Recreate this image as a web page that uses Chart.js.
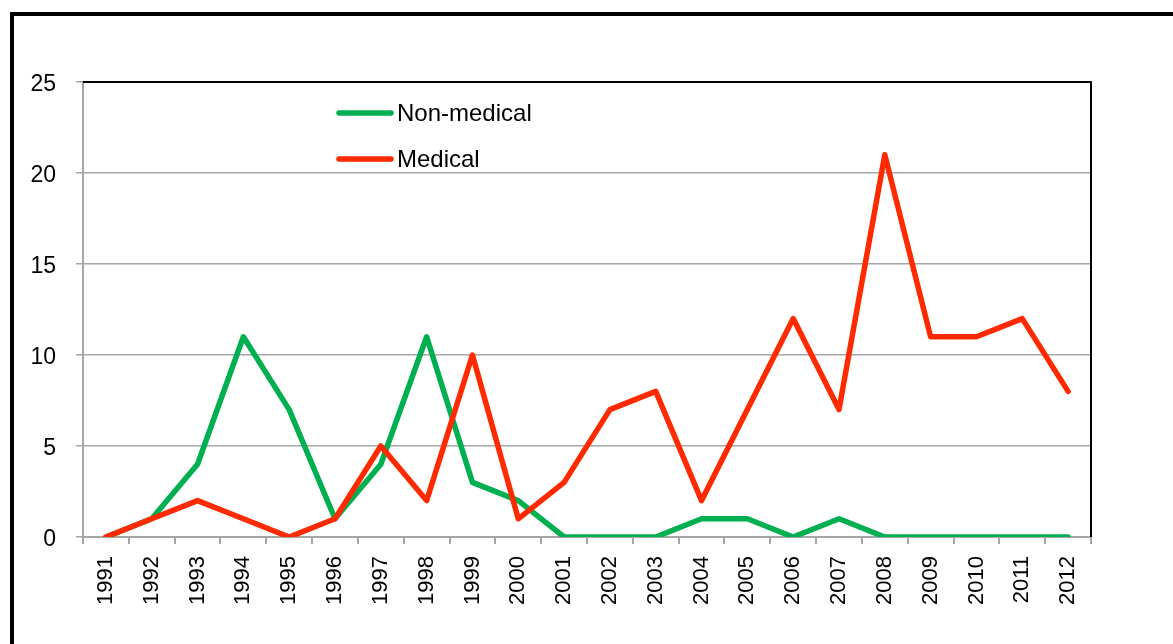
<!DOCTYPE html>
<html>
<head>
<meta charset="utf-8">
<script src="https://cdn.jsdelivr.net/npm/chart.js@4.4.1/dist/chart.umd.min.js"></script>
<style>
  html, body { margin: 0; padding: 0; background: #fff; overflow: hidden; }
  #wrap { position: relative; width: 1173px; height: 644px; }
</style>
</head>
<body>
<div id="wrap"><canvas id="chart" width="1173" height="644"></canvas></div>
<script>
const years = ['1991', '1992', '1993', '1994', '1995', '1996', '1997', '1998', '1999', '2000', '2001',
               '2002', '2003', '2004', '2005', '2006', '2007', '2008', '2009', '2010', '2011', '2012'];
const nonMedical = [0, 1, 4, 11, 7, 1, 4, 11, 3, 2, 0, 0, 0, 1, 1, 0, 1, 0, 0, 0, 0, 0];
const medical = [0, 1, 2, 1, 0, 1, 5, 2, 10, 1, 3, 7, 8, 2, 7, 12, 7, 21, 11, 11, 12, 8];
const yTicks = [0, 5, 10, 15, 20, 25];

const FONT = "'Liberation Sans', Arial, sans-serif";
const GRID = '#A6A6A6';

// outer frame + black top/right border of the plot + legend inside the plot
const decorations = {
    id: 'decorations',
    beforeDraw(chart) {
        const ctx = chart.ctx;
        ctx.save();
        ctx.fillStyle = '#fff';
        ctx.fillRect(0, 0, chart.width, chart.height);
        ctx.strokeStyle = '#000';
        ctx.lineWidth = 4;
        ctx.strokeRect(12, 14, 1300, 800);
        ctx.restore();
    },
    afterDraw(chart) {
        const ctx = chart.ctx;
        const a = chart.chartArea;
        ctx.save();
        ctx.strokeStyle = '#000';
        ctx.lineWidth = 2;
        ctx.beginPath();
        ctx.moveTo(a.left, a.top);
        ctx.lineTo(a.right, a.top);
        ctx.lineTo(a.right, a.bottom);
        ctx.stroke();

        // legend
        ctx.font = '24px ' + FONT;
        ctx.textBaseline = 'middle';
        ctx.textAlign = 'left';
        const rows = [113, 159];
        chart.data.datasets.forEach((ds, i) => {
            const y = rows[i];
            ctx.strokeStyle = ds.borderColor;
            ctx.lineWidth = 5.5;
            ctx.lineCap = 'round';
            ctx.beginPath();
            ctx.moveTo(339, y);
            ctx.lineTo(391, y);
            ctx.stroke();
            ctx.fillStyle = '#000';
            ctx.fillText(ds.label, 397, y + 1);
        });
        ctx.restore();
    }
};

new Chart(document.getElementById('chart'), {
    type: 'line',
    data: {
        labels: years,
        datasets: [
            {
                label: 'Non-medical',
                data: nonMedical,
                borderColor: '#00B050',
                borderWidth: 5.5,
                borderJoinStyle: 'round',
                borderCapStyle: 'round',
                pointRadius: 0,
                tension: 0,
                order: 2
            },
            {
                label: 'Medical',
                data: medical,
                borderColor: '#FF2A00',
                borderWidth: 5.5,
                borderJoinStyle: 'round',
                borderCapStyle: 'round',
                pointRadius: 0,
                tension: 0,
                order: 1
            }
        ]
    },
    options: {
        responsive: false,
        animation: false,
        devicePixelRatio: 1,
        layout: { padding: { top: 82, right: 82, bottom: 0, left: 0 } },
        plugins: {
            legend: { display: false },
            tooltip: { enabled: false }
        },
        scales: {
            x: {
                offset: true,
                grid: {
                    offset: true,
                    drawOnChartArea: false,
                    drawTicks: true,
                    tickLength: 7,
                    color: GRID,
                    lineWidth: 2
                },
                border: { color: GRID, width: 2 },
                ticks: {
                    autoSkip: false,
                    minRotation: 90,
                    maxRotation: 90,
                    padding: 12,
                    color: '#000',
                    font: { family: FONT, size: 22 }
                },
                afterFit(scale) { scale.height = 107; }
            },
            y: {
                min: 0,
                max: 25,
                afterBuildTicks(scale) { scale.ticks = yTicks.map(v => ({ value: v })); },
                grid: {
                    color: GRID,
                    lineWidth: 1.5,
                    tickLength: 7
                },
                border: { color: GRID, width: 2 },
                ticks: {
                    padding: 20,
                    labelOffset: 3,
                    color: '#000',
                    font: { family: FONT, size: 23 }
                },
                afterFit(scale) { scale.width = 83; }
            }
        }
    },
    plugins: [decorations]
});
</script>
</body>
</html>
